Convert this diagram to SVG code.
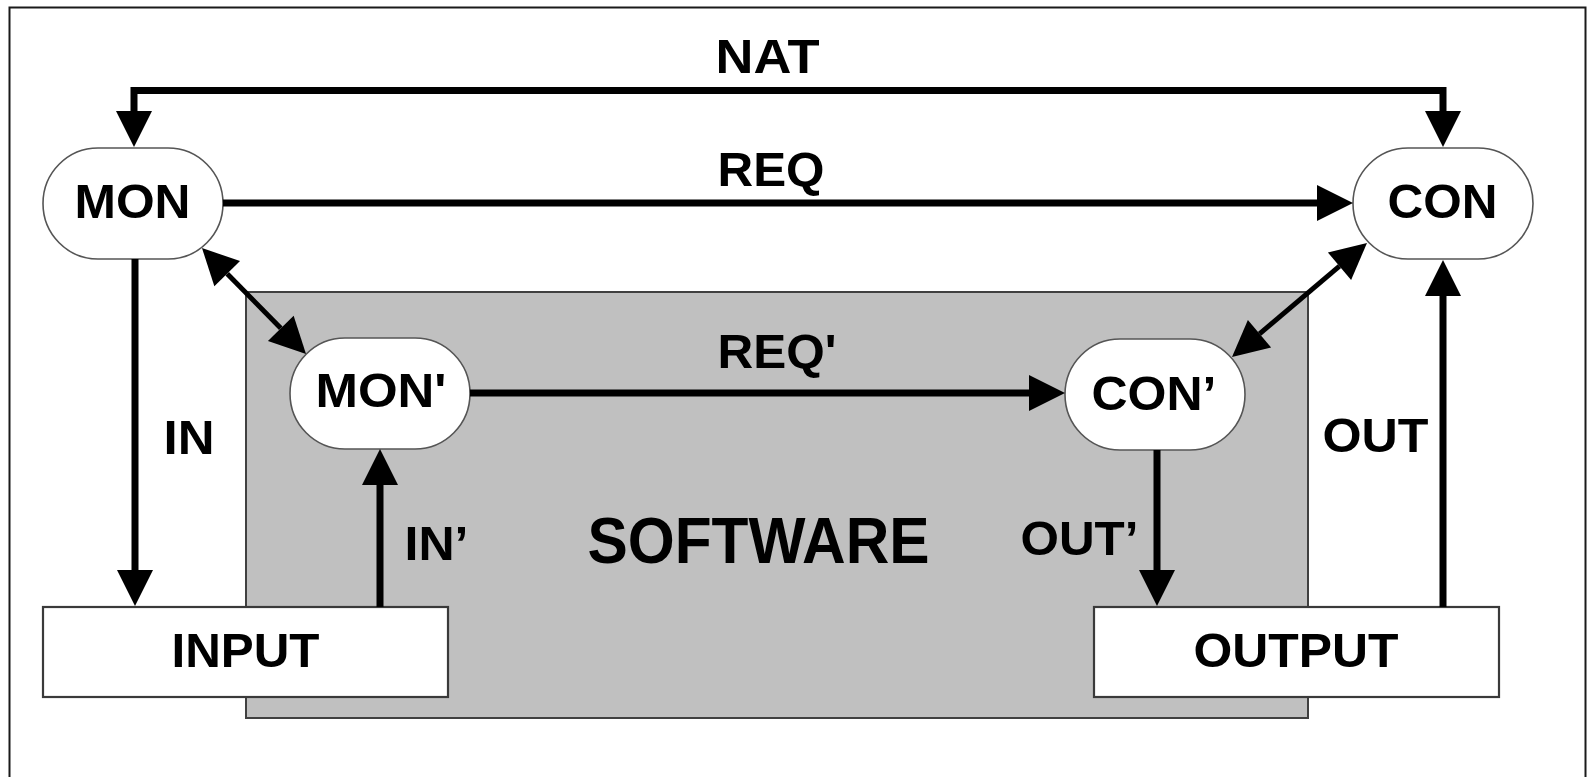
<svg xmlns="http://www.w3.org/2000/svg" width="1587" height="777" viewBox="0 0 1587 777">
  <style>
    .frame { fill: #ffffff; stroke: #1a1a1a; stroke-width: 2; }
    .soft { fill: #c0c0c0; stroke: #404040; stroke-width: 2; }
    .pill { fill: #ffffff; stroke: #555555; stroke-width: 1.6; }
    .box { fill: #ffffff; stroke: #3a3a3a; stroke-width: 2.2; }
    .wire { fill: none; stroke: #000000; stroke-width: 7; stroke-linejoin: miter; }
    .wire.thin { stroke-width: 5; }
    text { font-family: "Liberation Sans", Arial, Helvetica, sans-serif; font-weight: bold; fill: #000000; text-anchor: middle; }
    .lbl { font-size: 49px; }
    .big { font-size: 64px; }
  </style>
  <defs>
    <!-- arrowhead: base sits on the path end, tip points 36px further -->
    <marker id="head" markerUnits="userSpaceOnUse" markerWidth="36" markerHeight="36" refX="0" refY="18" orient="auto-start-reverse" viewBox="0 0 36 36" overflow="visible">
      <path d="M0,0 L36,18 L0,36 Z" fill="#000000"/>
    </marker>
  </defs>

  <!-- outer frame -->
  <rect class="frame" x="9.5" y="7.5" width="1576" height="800"/>

  <!-- software boundary -->
  <g id="software">
    <rect class="soft" x="246" y="292" width="1062" height="426"/>
    <text class="big" x="758.5" y="563" textLength="342" lengthAdjust="spacingAndGlyphs">SOFTWARE</text>
  </g>

  <!-- nodes -->
  <g id="mon">
    <rect class="pill" x="43" y="148" width="180" height="111" rx="55" ry="55.5"/>
    <text class="lbl" x="132.5" y="218" textLength="116" lengthAdjust="spacingAndGlyphs">MON</text>
  </g>
  <g id="con">
    <rect class="pill" x="1353" y="148" width="180" height="111" rx="55" ry="55.5"/>
    <text class="lbl" x="1442.5" y="218" textLength="110" lengthAdjust="spacingAndGlyphs">CON</text>
  </g>
  <g id="mon-prime">
    <rect class="pill" x="290" y="338" width="180" height="111" rx="55" ry="55.5"/>
    <text class="lbl" x="381" y="407" textLength="131" lengthAdjust="spacingAndGlyphs">MON'</text>
  </g>
  <g id="con-prime">
    <rect class="pill" x="1065" y="339" width="180" height="111" rx="55" ry="55.5"/>
    <text class="lbl" x="1154" y="410" textLength="125" lengthAdjust="spacingAndGlyphs">CON’</text>
  </g>
  <g id="input">
    <rect class="box" x="43" y="607" width="405" height="90"/>
    <text class="lbl" x="245.5" y="667" textLength="148" lengthAdjust="spacingAndGlyphs">INPUT</text>
  </g>
  <g id="output">
    <rect class="box" x="1094" y="607" width="405" height="90"/>
    <text class="lbl" x="1296" y="667" textLength="205" lengthAdjust="spacingAndGlyphs">OUTPUT</text>
  </g>

  <!-- connectors -->
  <g id="connectors">
    <path id="nat" class="wire" d="M134,111 V90.5 H1443 V111" marker-start="url(#head)" marker-end="url(#head)"/>
    <path id="req" class="wire" d="M223,203 H1317" marker-end="url(#head)"/>
    <path id="req-prime" class="wire" d="M470,393 H1029" marker-end="url(#head)"/>
    <path id="mon-link" class="wire thin" d="M227.2,273.7 L280.8,328.3" marker-start="url(#head)" marker-end="url(#head)"/>
    <path id="con-link" class="wire thin" d="M1259.5,333.8 L1339.5,266.2" marker-start="url(#head)" marker-end="url(#head)"/>
    <path id="in" class="wire" d="M135,259 V570" marker-end="url(#head)"/>
    <path id="in-prime" class="wire" d="M380,607 V485" marker-end="url(#head)"/>
    <path id="out-prime" class="wire" d="M1157,450 V570" marker-end="url(#head)"/>
    <path id="out" class="wire" d="M1443,607 V296" marker-end="url(#head)"/>
  </g>

  <!-- connector labels -->
  <g id="labels">
    <text class="lbl" x="767.5" y="73" textLength="104" lengthAdjust="spacingAndGlyphs">NAT</text>
    <text class="lbl" x="771" y="186" textLength="107" lengthAdjust="spacingAndGlyphs">REQ</text>
    <text class="lbl" x="777" y="368" textLength="119" lengthAdjust="spacingAndGlyphs">REQ'</text>
    <text class="lbl" x="189" y="454" textLength="51" lengthAdjust="spacingAndGlyphs">IN</text>
    <text class="lbl" x="436.5" y="560" textLength="64" lengthAdjust="spacingAndGlyphs">IN’</text>
    <text class="lbl" x="1375.5" y="452" textLength="106" lengthAdjust="spacingAndGlyphs">OUT</text>
    <text class="lbl" x="1079.5" y="555" textLength="118" lengthAdjust="spacingAndGlyphs">OUT’</text>
  </g>
</svg>
